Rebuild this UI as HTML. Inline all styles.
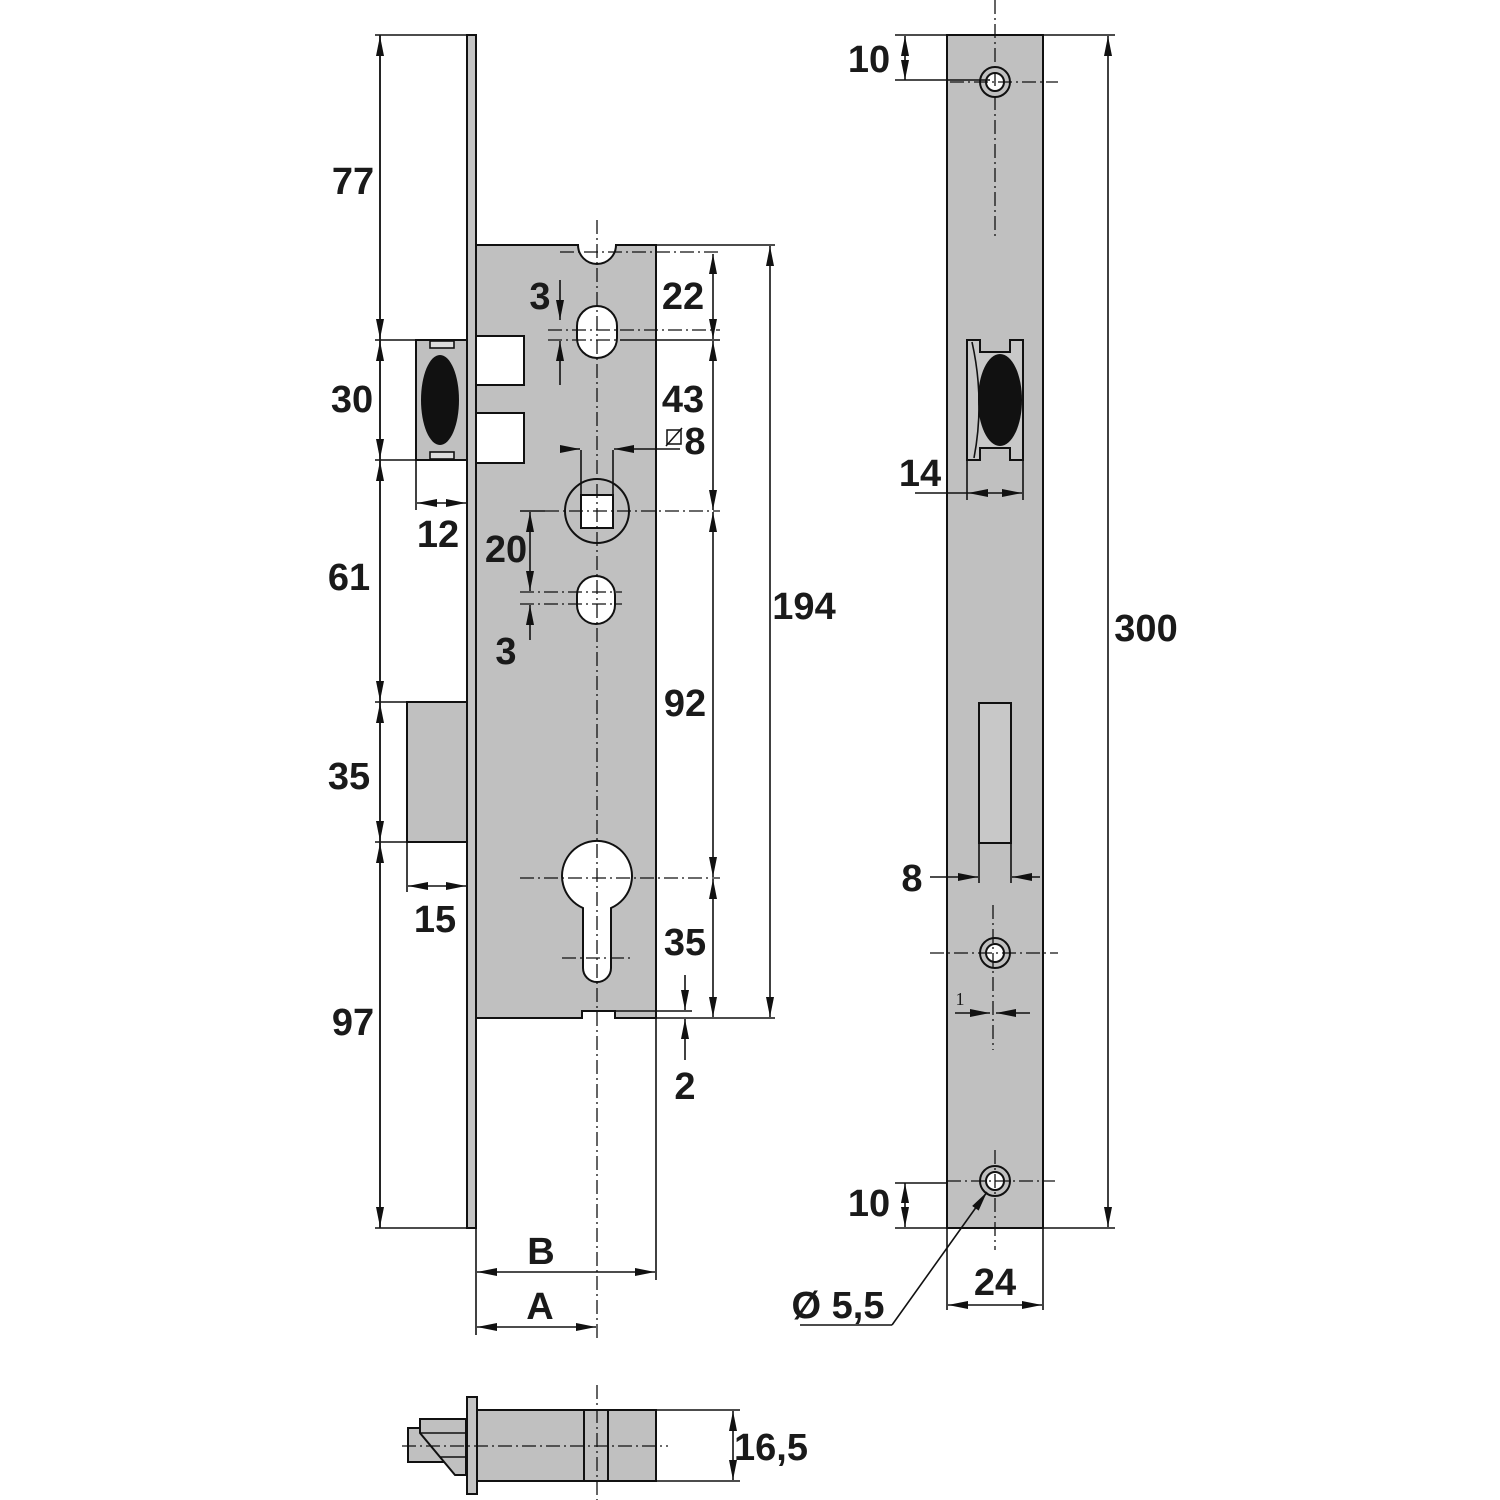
<!DOCTYPE html>
<html><head><meta charset="utf-8"><style>
html,body{margin:0;padding:0;background:#fff}
svg{display:block}
text{font-family:"Liberation Sans",sans-serif;font-weight:bold;fill:#1a1a1a}
</style></head><body>
<svg width="1500" height="1500" viewBox="0 0 1500 1500" xmlns="http://www.w3.org/2000/svg">
<defs>
<marker id="a" viewBox="0 0 20 10" refX="20" refY="5" markerWidth="20" markerHeight="10" markerUnits="userSpaceOnUse" orient="auto-start-reverse"><path d="M0,1 L20,5 L0,9 z" fill="#111"/></marker>
</defs>
<g stroke="#111" stroke-width="1.6" fill="none">
<!-- ===== LEFT VIEW ===== -->
<rect x="467" y="35" width="9" height="1193" fill="#c4c4c4" stroke-width="2"/>
<path d="M476,245 L578,245 A19,19 0 0 0 616,245 L656,245 L656,1018 L615,1018 L615,1011 L582,1011 L582,1018 L476,1018 Z" fill="#c0c0c0" stroke-width="2"/>
<rect x="416" y="340" width="51" height="120" fill="#c0c0c0" stroke-width="2"/>
<rect x="430" y="341" width="24" height="7" fill="#ddd"/>
<rect x="430" y="452" width="24" height="7" fill="#ddd"/>
<ellipse cx="440" cy="400" rx="19" ry="45" fill="#111" stroke="none"/>
<rect x="476" y="336" width="48" height="49" fill="#fff" stroke-width="2"/>
<rect x="476" y="413" width="48" height="50" fill="#fff" stroke-width="2"/>
<rect x="407" y="702" width="60" height="140" fill="#c0c0c0" stroke-width="2"/>
<rect x="577" y="306" width="40" height="52" rx="20" fill="#fff" stroke-width="2"/>
<circle cx="597" cy="511" r="32" stroke-width="2"/>
<rect x="581" y="495" width="32" height="33" fill="#fff" stroke-width="2"/>
<line x1="581" y1="450" x2="581" y2="495"/><line x1="613" y1="450" x2="613" y2="495"/>
<rect x="577" y="576" width="38" height="48" rx="19" fill="#fff" stroke-width="2"/>
<path d="M583,968 L583,908 A35,35 0 1 1 611,908 L611,968 A14,14 0 0 1 583,968 Z" fill="#fff" stroke-width="2"/>
<g stroke-dasharray="14,4,2,4" stroke-width="1.3">
<line x1="597" y1="220" x2="597" y2="1340"/>
<line x1="560" y1="252" x2="720" y2="252"/>
<line x1="548" y1="330" x2="720" y2="330"/>
<line x1="545" y1="511" x2="720" y2="511"/>
<line x1="520" y1="878" x2="720" y2="878"/>
<line x1="562" y1="958" x2="632" y2="958"/>
<line x1="520" y1="592" x2="622" y2="592"/>
<line x1="520" y1="604" x2="622" y2="604"/>
<line x1="548" y1="340" x2="620" y2="340"/>
</g>
<!-- ===== RIGHT VIEW ===== -->
<rect x="947" y="35" width="96" height="1193" fill="#c0c0c0" stroke-width="2"/>
<path d="M967,340 L980,340 L980,352 L1010,352 L1010,340 L1023,340 L1023,460 L1010,460 L1010,448 L980,448 L980,460 L967,460 Z" fill="#c8c8c8" stroke-width="2"/>
<path d="M972,342 Q985,400 974,458" />
<ellipse cx="1000" cy="400" rx="22" ry="46" fill="#111" stroke="none"/>
<rect x="979" y="703" width="32" height="140" fill="#c8c8c8" stroke-width="2"/>
<line x1="979" y1="843" x2="979" y2="883"/><line x1="1011" y1="843" x2="1011" y2="883"/>
<line x1="967" y1="460" x2="967" y2="500"/><line x1="1023" y1="460" x2="1023" y2="500"/>
<g fill="#fff" stroke-width="2">
<circle cx="995" cy="82" r="15" fill="none"/><circle cx="995" cy="82" r="9"/>
<circle cx="995" cy="953" r="15" fill="none"/><circle cx="995" cy="953" r="9"/>
<circle cx="995" cy="1181" r="15" fill="none"/><circle cx="995" cy="1181" r="9"/>
</g>
<g stroke-dasharray="14,4,2,4" stroke-width="1.3">
<line x1="995" y1="0" x2="995" y2="240"/>
<line x1="950" y1="82" x2="1058" y2="82"/>
<line x1="993" y1="905" x2="993" y2="1050"/>
<line x1="930" y1="953" x2="1058" y2="953"/>
<line x1="995" y1="1150" x2="995" y2="1250"/>
<line x1="947" y1="1181" x2="1055" y2="1181"/>
</g>
<!-- dims -->
<line x1="380" y1="35" x2="380" y2="1228"/>
<g marker-start="url(#a)" marker-end="url(#a)">
<line x1="380" y1="36" x2="380" y2="339"/>
<line x1="380" y1="341" x2="380" y2="459"/>
<line x1="380" y1="461" x2="380" y2="701"/>
<line x1="380" y1="703" x2="380" y2="841"/>
<line x1="380" y1="843" x2="380" y2="1227"/>
<line x1="417" y1="503" x2="466" y2="503"/>
<line x1="408" y1="886" x2="466" y2="886"/>
<line x1="477" y1="1272" x2="655" y2="1272"/>
<line x1="477" y1="1327" x2="596" y2="1327"/>
<line x1="713" y1="254" x2="713" y2="339"/>
<line x1="713" y1="341" x2="713" y2="510"/>
<line x1="713" y1="512" x2="713" y2="877"/>
<line x1="713" y1="879" x2="713" y2="1017"/>
<line x1="770" y1="246" x2="770" y2="1017"/>
<line x1="530" y1="512" x2="530" y2="591"/>
<line x1="905" y1="36" x2="905" y2="80"/>
<line x1="905" y1="1183" x2="905" y2="1227"/>
<line x1="1108" y1="36" x2="1108" y2="1227"/>
<line x1="968" y1="493" x2="1022" y2="493"/>
<line x1="948" y1="1305" x2="1042" y2="1305"/>
<line x1="733" y1="1411" x2="733" y2="1480"/>
</g>
<line x1="915" y1="493" x2="968" y2="493"/>
<path d="M560,280 L560,320" marker-end="url(#a)"/><path d="M560,385 L560,341" marker-end="url(#a)"/>
<path d="M530,640 L530,605" marker-end="url(#a)"/>
<path d="M685,975 L685,1010" marker-end="url(#a)"/><path d="M685,1060 L685,1019" marker-end="url(#a)"/>
<path d="M565,449 L580,449" marker-end="url(#a)"/><path d="M680,449 L614,449" marker-end="url(#a)"/>
<path d="M930,877 L978,877" marker-end="url(#a)"/><path d="M1040,877 L1012,877" marker-end="url(#a)"/>
<path d="M955,1013 L990,1013" marker-end="url(#a)"/><path d="M1030,1013 L996,1013" marker-end="url(#a)"/>
<line x1="375" y1="35" x2="467" y2="35"/>
<line x1="375" y1="340" x2="416" y2="340"/>
<line x1="375" y1="460" x2="416" y2="460"/>
<line x1="375" y1="702" x2="407" y2="702"/>
<line x1="375" y1="842" x2="407" y2="842"/>
<line x1="375" y1="1228" x2="467" y2="1228"/>
<line x1="416" y1="460" x2="416" y2="510"/>
<line x1="407" y1="842" x2="407" y2="892"/>
<line x1="476" y1="1228" x2="476" y2="1335"/>
<line x1="656" y1="1018" x2="656" y2="1280"/>
<line x1="656" y1="245" x2="775" y2="245"/>
<line x1="656" y1="1018" x2="775" y2="1018"/>
<line x1="620" y1="340" x2="720" y2="340"/>
<line x1="615" y1="1011" x2="692" y2="1011"/>
<line x1="520" y1="511" x2="545" y2="511"/>
<line x1="895" y1="35" x2="947" y2="35"/>
<line x1="895" y1="80" x2="990" y2="80"/>
<line x1="895" y1="1183" x2="947" y2="1183"/>
<line x1="895" y1="1228" x2="947" y2="1228"/>
<line x1="1043" y1="35" x2="1115" y2="35"/>
<line x1="1043" y1="1228" x2="1115" y2="1228"/>
<line x1="947" y1="1228" x2="947" y2="1310"/>
<line x1="1043" y1="1228" x2="1043" y2="1310"/>
<line x1="800" y1="1325" x2="892" y2="1325"/>
<path d="M892,1325 L987,1192" marker-end="url(#a)"/>
<!-- ===== BOTTOM VIEW ===== -->
<path d="M408,1428 L466,1428 L466,1462 L452,1462 L408,1462 Z" fill="#c0c0c0" stroke-width="2"/>
<path d="M420,1419 L466,1419 L466,1475 L463,1475 L455,1475 L420,1433 Z" fill="#c0c0c0" stroke-width="2"/>
<line x1="420" y1="1433" x2="466" y2="1433"/><line x1="440" y1="1457" x2="466" y2="1457"/>
<rect x="467" y="1397" width="10" height="97" fill="#c4c4c4" stroke-width="2"/>
<rect x="477" y="1410" width="179" height="71" fill="#c0c0c0" stroke-width="2"/>
<line x1="584" y1="1410" x2="584" y2="1481" stroke-width="2"/>
<line x1="608" y1="1410" x2="608" y2="1481" stroke-width="2"/>
<g stroke-dasharray="14,4,2,4" stroke-width="1.3">
<line x1="597" y1="1385" x2="597" y2="1500"/>
<line x1="402" y1="1446" x2="668" y2="1446"/>
</g>
<line x1="656" y1="1410" x2="740" y2="1410"/>
<line x1="656" y1="1481" x2="740" y2="1481"/>
</g>
<g font-size="38" text-anchor="middle">
<text x="353" y="194">77</text>
<text x="352" y="412">30</text>
<text x="349" y="590">61</text>
<text x="349" y="789">35</text>
<text x="353" y="1035">97</text>
<text x="438" y="547">12</text>
<text x="435" y="932">15</text>
<text x="540" y="309">3</text>
<text x="683" y="309">22</text>
<text x="683" y="412">43</text>
<text x="695" y="454">8</text>
<text x="506" y="562">20</text>
<text x="506" y="664">3</text>
<text x="804" y="619">194</text>
<text x="685" y="716">92</text>
<text x="685" y="955">35</text>
<text x="685" y="1099">2</text>
<text x="541" y="1264">B</text>
<text x="540" y="1319">A</text>
<text x="869" y="72">10</text>
<text x="869" y="1216">10</text>
<text x="920" y="486">14</text>
<text x="1146" y="641">300</text>
<text x="912" y="891">8</text>
<text x="995" y="1295">24</text>
<text x="838" y="1318">Ø 5,5</text>
<text x="771" y="1460">16,5</text>
</g>
<rect x="667" y="430" width="14" height="14" fill="none" stroke="#111" stroke-width="1.5"/>
<line x1="666" y1="446" x2="682" y2="428" stroke="#111" stroke-width="1.5"/>
<text x="960" y="1005" font-size="18" style="font-family:'Liberation Serif',serif;font-weight:normal" text-anchor="middle">1</text>
</svg>
</body></html>
